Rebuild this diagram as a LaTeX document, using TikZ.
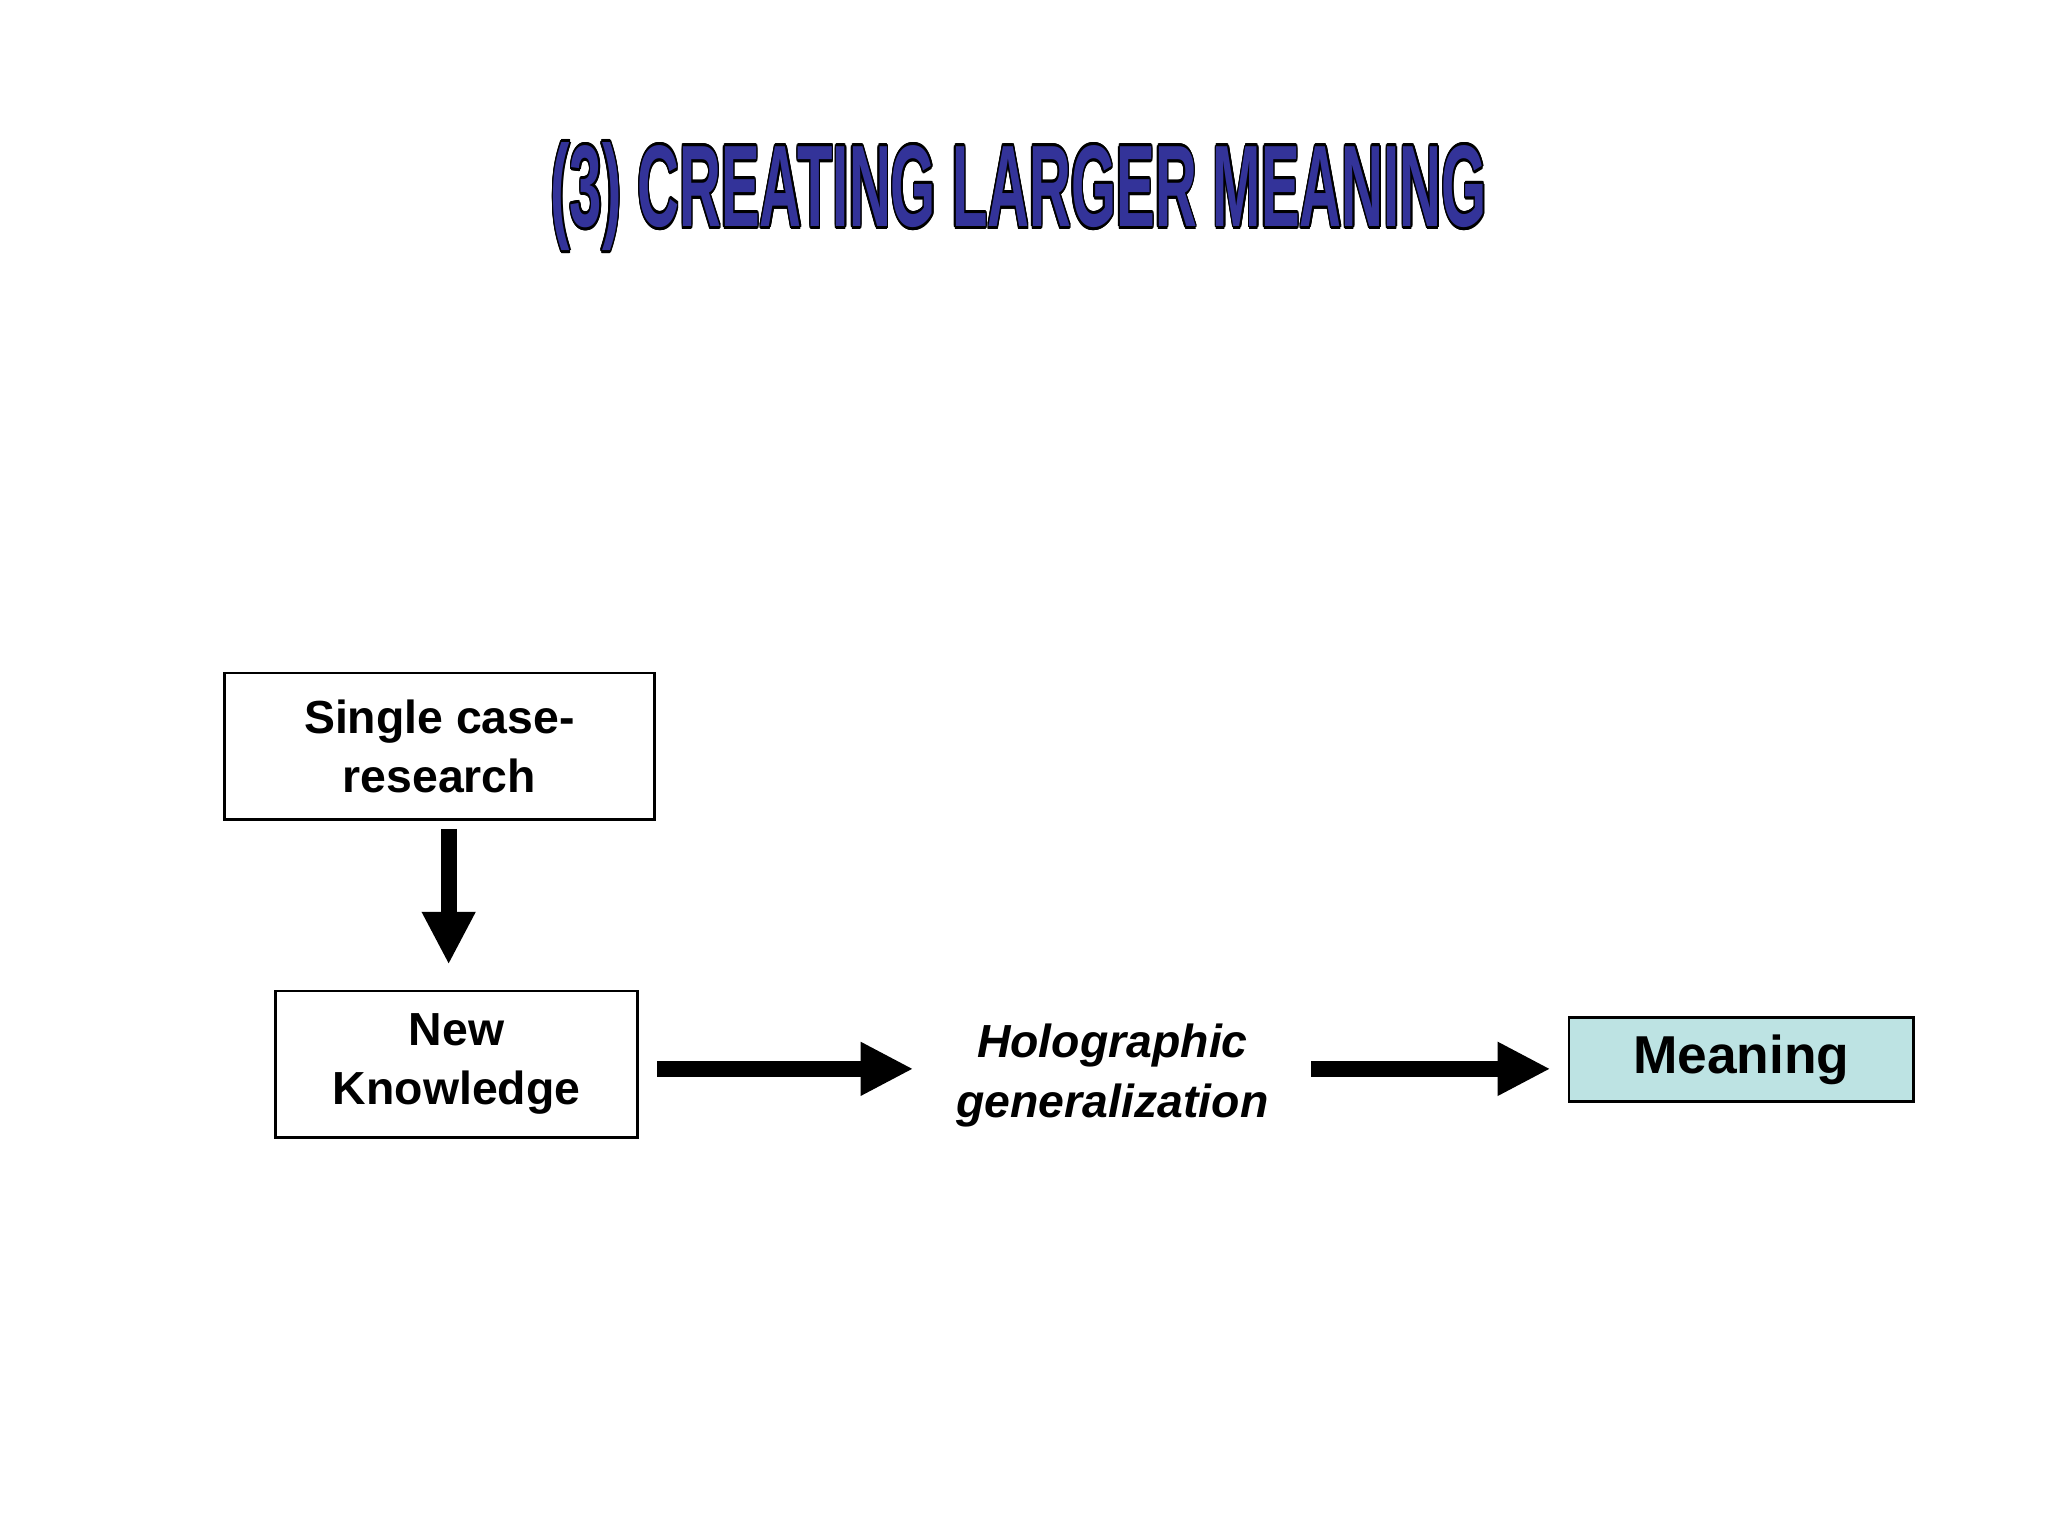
\documentclass[tikz,border=0pt]{standalone}
\usepackage{fontspec}
\setmainfont{Liberation Sans}
\usepackage{contour}
\contourlength{0.6pt}
\usetikzlibrary{arrows.meta}
\definecolor{titleblue}{HTML}{333399}
\definecolor{meaningfill}{HTML}{BDE3E3}
\tikzset{
  box/.style={draw=black, line width=0.6pt, align=center, font=\bfseries\fontsize{10}{12.8}\selectfont, inner sep=0pt},
  bigarrow/.style={line width=3.4pt, -{Triangle[width=0.38cm,length=0.4cm]}}
}
\begin{document}
\begin{tikzpicture}
\useasboundingbox (0,0) rectangle (15.52,-11.64);
\node (title) at (7.72,-1.50) {\scalebox{0.5}[1]{\fontsize{25}{30}\selectfont\bfseries\contour{black}{\textcolor{titleblue}{(3) CREATING LARGER MEANING}}}};
\node[box, minimum width=3.26cm, minimum height=1.11cm] (single) at (3.33,-5.655) {Single case-\\research};
\node[box, minimum width=2.74cm, minimum height=1.11cm] (new) at (3.46,-8.065) {New\\Knowledge};
\node[align=center, font=\bfseries\itshape\fontsize{10}{12.8}\selectfont, inner sep=0pt] (holo) at (8.43,-8.15) {Holographic\\generalization};
\node[box, fill=meaningfill, minimum width=2.61cm, minimum height=0.64cm, font=\bfseries\fontsize{11.5}{13}\selectfont] (meaning) at (13.195,-8.03) {Meaning};
\draw[bigarrow, shorten <=0.06cm, shorten >=0.19cm] (single.south -| 3.40,0) -- (new.north -| 3.40,0);
\draw[bigarrow, shorten <=0.14cm, shorten >=0.32cm] (new.east |- 0,-8.10) -- (holo.west |- 0,-8.10);
\draw[bigarrow, shorten <=0.32cm, shorten >=0.13cm] (holo.east |- 0,-8.10) -- (meaning.west |- 0,-8.10);
\end{tikzpicture}
\end{document}
